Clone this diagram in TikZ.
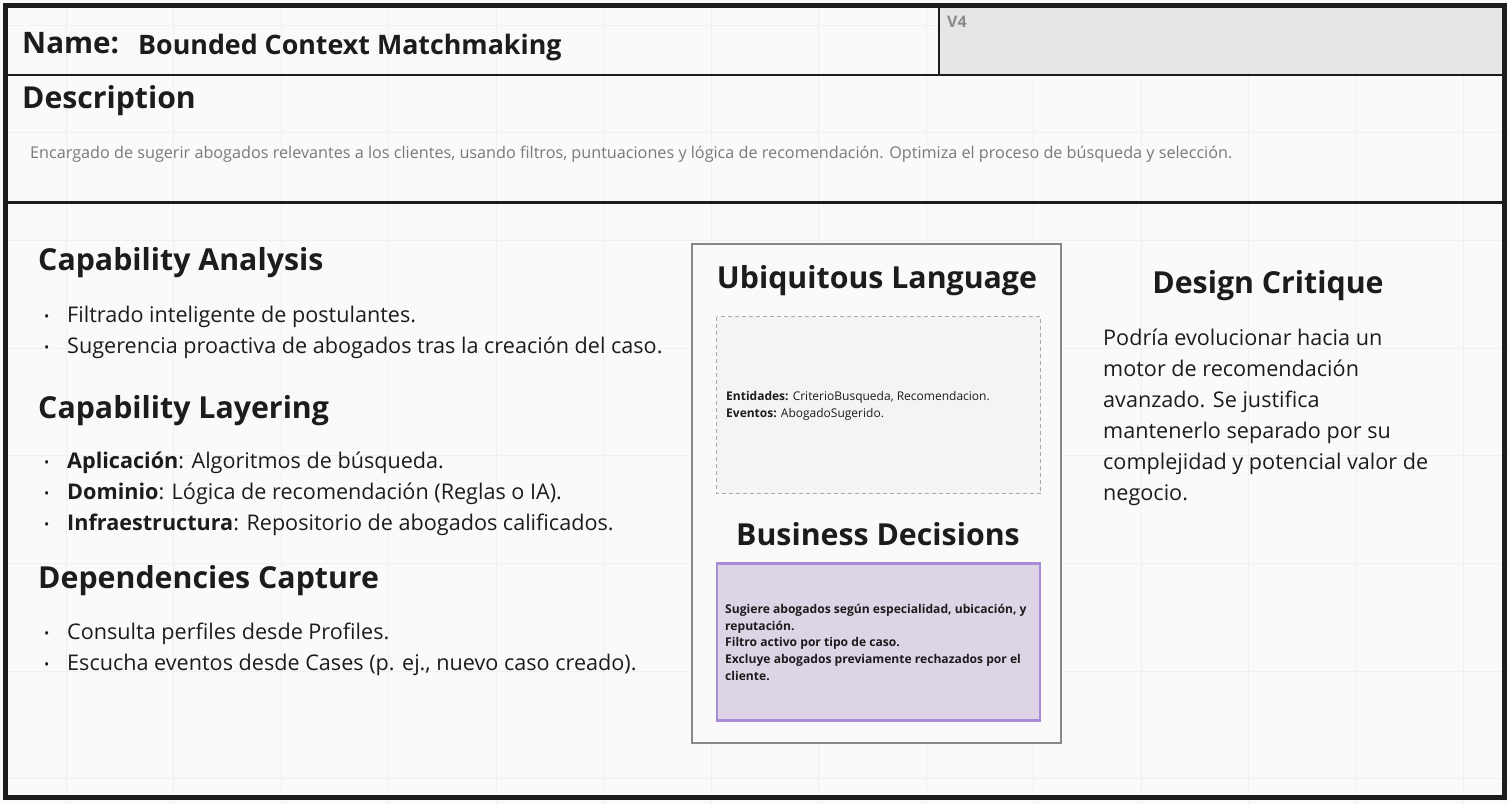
\documentclass[tikz,border=0pt]{standalone}
\usepackage{fontspec}
\setmainfont{Open Sans}
\definecolor{ink}{HTML}{1C1C1C}
\definecolor{bg}{HTML}{FAFAFA}
\definecolor{gridc}{HTML}{F0F0F0}
\definecolor{cellgray}{HTML}{E6E6E6}
\definecolor{vgray}{HTML}{8A8A8A}
\definecolor{desc}{HTML}{7A7A7A}
\definecolor{boxgray}{HTML}{888888}
\definecolor{ulfill}{HTML}{F4F4F4}
\definecolor{ulline}{HTML}{AAAAAA}
\definecolor{bdfill}{HTML}{DDD5E5}
\definecolor{bdline}{HTML}{A98BD8}
\begin{document}
\begin{tikzpicture}[x=1pt,y=-1pt,
  txt/.style={inner sep=0pt, anchor=base west, text=ink},
  head/.style={txt, font=\fontsize{30.3}{36}\selectfont\bfseries},
  chead/.style={head, anchor=base},
  body/.style={txt, font=\fontsize{21.6}{26}\selectfont},
  small/.style={txt, font=\fontsize{12}{15}\selectfont},
  bdtext/.style={txt, font=\fontsize{12.1}{15}\selectfont\bfseries},
  gridline/.style={draw=gridc, line width=1pt},
  bul/.style={txt, font=\fontsize{14}{14}\selectfont}]
\useasboundingbox (0,0) rectangle (1510,804);
\fill[bg] (0,0) rectangle (1510,804);
\foreach \i in {0,...,13} \draw[gridline] ({66+107.5*\i},0) -- ++(0,804);
\foreach \i in {0,...,7} \draw[gridline] (0,{25+107.7*\i}) -- ++(1510,0);
% header cells
\fill[cellgray] (939,8) rectangle (1502,75);
\draw[ink, line width=2.5pt] (939,8) -- (939,75);
\draw[ink, line width=2.5pt] (8,75) -- (1502,75);
\draw[ink, line width=3pt] (8,202) -- (1502,202);
\draw[ink, line width=5pt] (5.5,5.5) rectangle (1504.5,797.5);
% header texts
\node[txt, font=\fontsize{29.6}{34}\selectfont\bfseries] (name) at (22,53) {Name:};
\node[txt, font=\fontsize{26.8}{32}\selectfont\bfseries] (bc) at (138,54) {Bounded Context Matchmaking};
\node[txt, text=vgray, font=\fontsize{16}{18}\selectfont\bfseries] (ver) at (947,27) {V4};
\node[txt, font=\fontsize{30.2}{36}\selectfont\bfseries] (dsc) at (22,108) {Description};
\node[txt, text=desc, font=\fontsize{16.2}{19}\selectfont] (dtext) at (30,158) {Encargado de sugerir abogados relevantes a los clientes, usando filtros, puntuaciones y lógica de recomendación. Optimiza el proceso de búsqueda y selección.};
% left column
\node[head] (ca) at (38,270) {Capability Analysis};
\node[bul] (b1) at (44,321) {•};
\node[body] (t1) at (67,322) {Filtrado inteligente de postulantes.};
\node[bul] (b2) at (44,352) {•};
\node[body] (t2) at (67,353) {Sugerencia proactiva de abogados tras la creación del caso.};
\node[head] (cl) at (38,418) {Capability Layering};
\node[bul] (b3) at (44,467) {•};
\node[body] (t3) at (67,468) {\textbf{Aplicación}: Algoritmos de búsqueda.};
\node[bul] (b4) at (44,498) {•};
\node[body] (t4) at (67,499) {\textbf{Dominio}: Lógica de recomendación (Reglas o IA).};
\node[bul] (b5) at (44,529) {•};
\node[body] (t5) at (67,530) {\textbf{Infraestructura}: Repositorio de abogados calificados.};
\node[head] (dc) at (38,588) {Dependencies Capture};
\node[bul] (b6) at (44,638) {•};
\node[body] (t6) at (67,639) {Consulta perfiles desde Profiles.};
\node[bul] (b7) at (44,669) {•};
\node[body] (t7) at (67,670) {Escucha eventos desde Cases (p. ej., nuevo caso creado).};
% middle column
\draw[boxgray, fill=bg, line width=2.5pt] (692,244) rectangle (1061,743);
\node[chead] (ul) at (877,288) {Ubiquitous Language};
\draw[ulline, fill=ulfill, line width=1pt, dash pattern=on 4pt off 3pt] (716.5,316.5) rectangle (1040.5,493.5);
\node[small] (ent) at (726,400) {\textbf{Entidades:} CriterioBusqueda, Recomendacion.};
\node[small] (evt) at (726,417) {\textbf{Eventos:} AbogadoSugerido.};
\node[chead] (bd) at (878,545) {Business Decisions};
\draw[bdline, fill=bdfill, line width=2.5pt] (717,563.5) rectangle (1040,720.5);
\node[bdtext] (d1) at (725,613) {Sugiere abogados según especialidad, ubicación, y};
\node[bdtext] (d2) at (725,630) {reputación.};
\node[bdtext] (d3) at (725,646.5) {Filtro activo por tipo de caso.};
\node[bdtext] (d4) at (725,663) {Excluye abogados previamente rechazados por el};
\node[bdtext] (d5) at (725,680) {cliente.};
% right column
\node[chead] (dcr) at (1268,293) {Design Critique};
\node[body] (p1) at (1103,345) {Podría evolucionar hacia un};
\node[body] (p2) at (1103,376) {motor de recomendación};
\node[body] (p3) at (1103,407) {avanzado. Se justifica};
\node[body] (p4) at (1103,438) {mantenerlo separado por su};
\node[body] (p5) at (1103,469) {complejidad y potencial valor de};
\node[body] (p6) at (1103,500) {negocio.};
\end{tikzpicture}
\end{document}
